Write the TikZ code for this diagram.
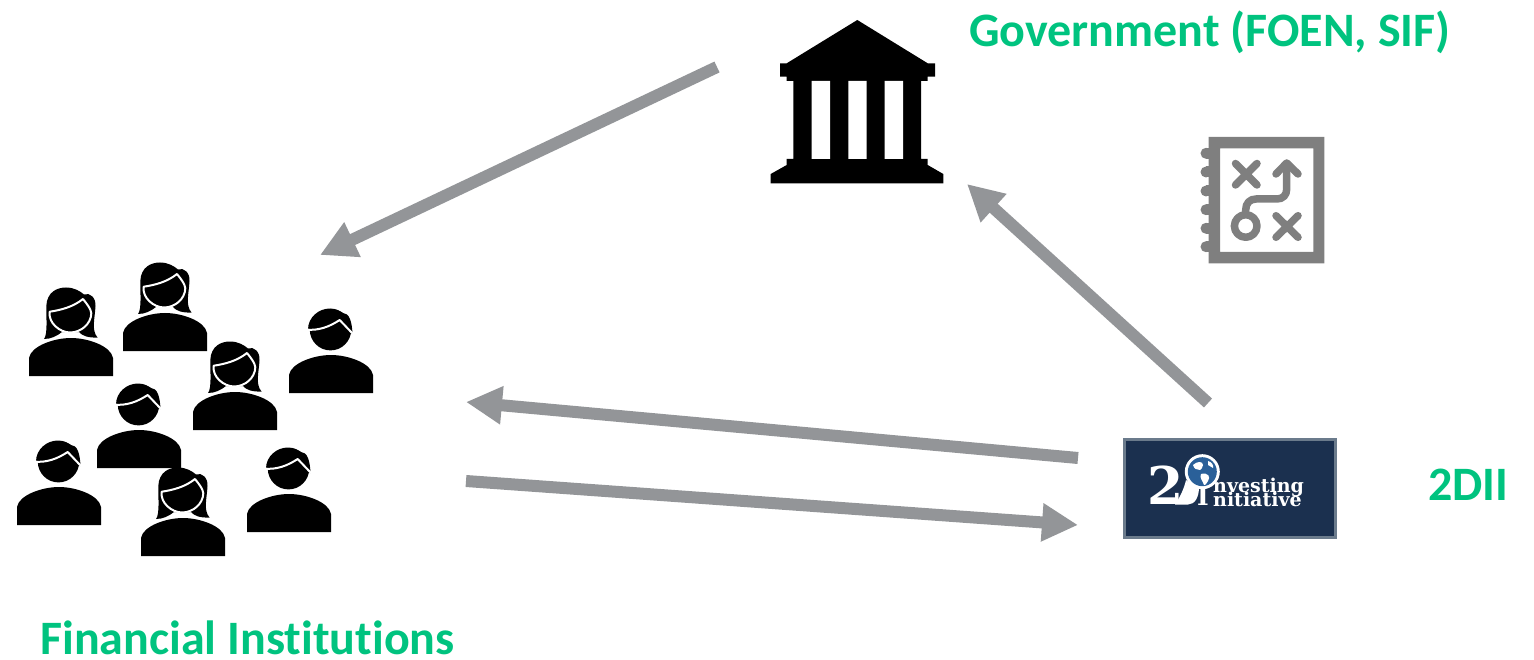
\documentclass[tikz,border=0pt]{standalone}
\usepackage{fontspec}
\setmainfont[Ligatures=NoCommon,Contextuals=NoAlternate]{Carlito}
\newfontfamily\logofont{DejaVu Serif}
\usetikzlibrary{arrows.meta}
\definecolor{labelgreen}{HTML}{00C37F}
\definecolor{arrowgrey}{HTML}{939598}
\definecolor{icongrey}{HTML}{7F7F7F}
\definecolor{logonavy}{HTML}{1B304F}
\definecolor{logoborder}{HTML}{6B7B8C}
\definecolor{globeblue}{HTML}{2A6099}
\tikzset{
  x=1pt,y=-1pt,
  flowarrow/.style={draw=arrowgrey,line width=12pt,-{Triangle[length=36pt,width=36pt,fill=arrowgrey]}},
  biglabel/.style={text=labelgreen,font=\fontsize{48}{50}\selectfont\bfseries,anchor=base west,inner sep=0pt},
  logotext/.style={text=white,inner sep=0pt,anchor=base west,font=\logofont\bfseries\fontsize{19}{20}\selectfont},
  iconline/.style={draw=icongrey,line width=7.5pt,line cap=round,line join=round},
  woman/.pic={
    \fill[black] (0,0) -- (0,-18) .. controls (2,-30) and (25,-38) .. (42,-38) .. controls (59,-38) and (82,-30) .. (84,-18) -- (84,0) -- cycle;
    \fill[black] (15,-37) .. controls (19,-42) and (17,-60) .. (17.3,-70) .. controls (18,-84) and (28,-88.5) .. (37,-88.5) .. controls (45,-88.5) and (51,-85) .. (55,-81.5) .. controls (61,-84) and (67,-78) .. (66.5,-70) .. controls (66,-58) and (62,-46) .. (68.5,-38.5) .. controls (60,-38) and (53,-40) .. (50,-44) -- (33,-44) .. controls (28,-40) and (22,-37) .. (15,-37) -- cycle;
    \draw[white,line width=2pt,line join=round] (20.7,-64.3) .. controls (32,-66) and (44,-69) .. (54,-77) .. controls (58,-72) and (62,-67) .. (62.3,-62.7) .. controls (62,-52) and (52,-43.5) .. (41,-43.5) .. controls (31,-43.5) and (19,-53) .. (20.7,-64.3) -- cycle;
  },
  man/.pic={
    \fill[black] (0,0) -- (0,-18) .. controls (2,-30) and (25,-38) .. (42,-38) .. controls (59,-38) and (82,-30) .. (84,-18) -- (84,0) -- cycle;
    \fill[black] (41.5,-63.3) circle[radius=20.7];
    \fill[black] (19,-63.3) .. controls (19,-76) and (30,-84.5) .. (41,-84.5) .. controls (47,-84.5) and (51,-82) .. (54,-80) .. controls (60,-80) and (63,-72) .. (63.5,-59) -- cycle;
    \draw[white,line width=2pt,line join=round] (18,-63.3) .. controls (30,-62.5) and (40,-66) .. (50.7,-73) -- (64,-59);
  },
}
\begin{document}
\begin{tikzpicture}
\useasboundingbox (0,0) rectangle (1534,660);
% labels
\node[biglabel] (govlabel) at (969,47) {Government (FOEN, SIF)};
\node[biglabel] (filabel) at (40,654) {Financial Institutions};
\node[biglabel] (iilabel) at (1428,500) {2DII};
% bank
\fill[black] (857.3,20) -- (927.7,63.3) -- (935,63.3) -- (935,76.7) -- (927.7,76.7) -- (927.7,81) -- (921,81) -- (921,159) -- (927.7,159) -- (927.7,165) -- (943.3,174) -- (943.3,183.3) -- (770.7,183.3) -- (770.7,174) -- (786.7,165) -- (786.7,159) -- (793.3,159) -- (793.3,81) -- (786.7,81) -- (786.7,76.7) -- (780,76.7) -- (780,63.3) -- (786.7,63.3) -- cycle;
\fill[white] (811.7,81) rectangle (830,159) (848.3,81) rectangle (866.7,159) (884.7,81) rectangle (903,159);
% notebook
\foreach \ringy in {153.3,172,191,209.7,228.3,246.7}{
  \fill[icongrey] (1206,\ringy) circle[radius=5.5];
  \fill[icongrey] (1206,\ringy-5.5) rectangle (1210,\ringy+5.5);
}
\fill[icongrey,even odd rule] (1208.7,137) rectangle (1324.3,263.3) (1220,148.3) rectangle (1313.3,252);
\draw[iconline] (1235.5,163.5) -- (1257,185) (1257,163.5) -- (1235.5,185);
\draw[iconline] (1276,215.7) -- (1298,237.3) (1298,215.7) -- (1276,237.3);
\draw[iconline] (1245.7,226) circle[radius=11.3];
\draw[iconline] (1245.7,214) -- (1245.7,210) .. controls (1245.7,203) and (1250,199) .. (1256,199) -- (1277,199) .. controls (1283,199) and (1286.7,195) .. (1286.7,189) -- (1286.7,165);
\draw[iconline] (1276,174) -- (1286.7,163) -- (1298,174);
% people
\pic at (29,376) {woman};
\pic at (123,351) {woman};
\pic at (193,430) {woman};
\pic at (141,556) {woman};
\pic at (289,393) {man};
\pic at (97,468) {man};
\pic at (17,525) {man};
\pic at (247,532) {man};
% logo
\node[draw=logoborder,fill=logonavy,line width=3pt,minimum width=211pt,minimum height=98pt,inner sep=0pt] (logo) at (1229.5,488) {};
\node[logotext,font=\logofont\bfseries\fontsize{52}{52}\selectfont] (two) at (1147,504.5) {2};
\fill[white] (1186,480) .. controls (1184,489) and (1180,497) .. (1175,504.5) -- (1188,504.5) .. controls (1195,504.5) and (1199,497) .. (1199,487) -- (1191,484) -- cycle;
\fill[white] (1202.3,471.7) circle[radius=17.5];
\fill[globeblue] (1202.3,471.7) circle[radius=14.5];
\fill[white] (1193,465) .. controls (1197,461) and (1203,461) .. (1203,465) .. controls (1201,468) and (1203,469) .. (1200,470) .. controls (1197,470) and (1194,469) .. (1193,465) -- cycle;
\fill[white] (1201,474) .. controls (1208,472) and (1211,477) .. (1208,481) .. controls (1206,484) and (1205,486) .. (1204,485) .. controls (1203,481) and (1199,478) .. (1201,474) -- cycle;
\fill[white] (1208,461) .. controls (1212,462) and (1214,466) .. (1213,468) -- (1208,465) -- cycle;
\node[logotext,font=\logofont\bfseries\fontsize{25}{25}\selectfont] (bigI) at (1197,505) {I};
\node[logotext,anchor=north west,align=left,font=\logofont\bfseries\fontsize{19}{13}\selectfont] (nv) at (1213,478) {nvesting\\[-5.5pt]nitiative};
% connector ends
\coordinate (govout) at (717,67);
\coordinate (fiin) at (320,255);
\coordinate (iiup) at (1208,403);
\coordinate (govin) at (967,184);
\coordinate (iiout) at (1078,458);
\coordinate (fiback) at (466,402);
\coordinate (fiout) at (466,481);
\coordinate (iiin) at (1078,525);
\draw[flowarrow] (govout) -- (fiin);
\draw[flowarrow] (iiup) -- (govin);
\draw[flowarrow] (iiout) -- (fiback);
\draw[flowarrow] (fiout) -- (iiin);
\end{tikzpicture}
\end{document}
